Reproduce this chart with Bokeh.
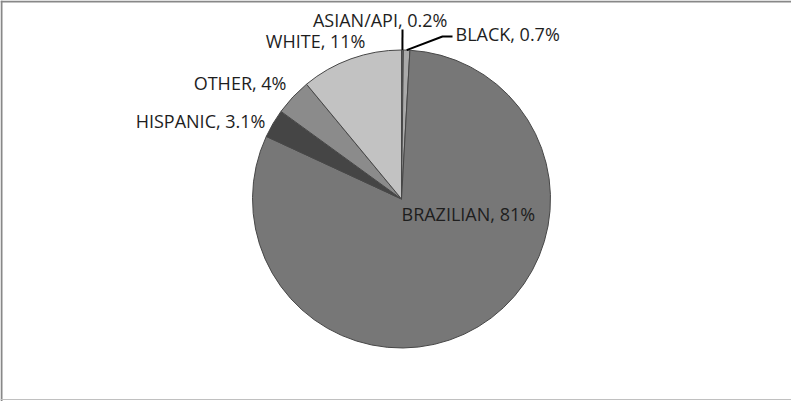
import math
from bokeh.plotting import figure
from bokeh.models import Range1d, Span, ColumnDataSource
from bokeh.core.properties import value
from bokeh.embed import file_html
from bokeh.resources import INLINE

# ---- data ----
categories = ["ASIAN/API", "BLACK", "BRAZILIAN", "HISPANIC", "OTHER", "WHITE"]
percent_labels = ["0.2%", "0.7%", "81%", "3.1%", "4%", "11%"]
shares = [0.2, 0.7, 81.0, 3.1, 4.0, 11.0]

# ---- style / layout ----
colors = ["#5e5e5e", "#aaaaaa", "#777777", "#454545", "#8b8b8b", "#c2c2c2"]
W, H = 791, 401
CX, CY, R = 409, 409 - 206.5, 149   # page coords -> data y = 409 - page_y

def py(v):
    return 409 - v

# label anchors (page coords) and alignment
label_layout = {
    "ASIAN/API": (455, 27, "right"),
    "BLACK": (463, 41, "left"),
    "BRAZILIAN": (409, 221, "left"),
    "HISPANIC": (273, 128, "right"),
    "OTHER": (294, 90, "right"),
    "WHITE": (373, 48, "right"),
}

total = sum(shares)
starts, ends, mids = [], [], []
acc = 0.0
for s in shares:
    a0 = math.pi / 2 - 2 * math.pi * acc / total
    acc += s
    a1 = math.pi / 2 - 2 * math.pi * acc / total
    starts.append(a0)
    ends.append(a1)
    mids.append((a0 + a1) / 2)

p = figure(width=W, height=H, output_backend="svg", toolbar_location=None,
           x_range=Range1d(8, 8 + W), y_range=Range1d(0, H),
           x_axis_type=None, y_axis_type=None, min_border=0,
           outline_line_color=None, background_fill_color="white")
p.grid.visible = False

src = ColumnDataSource(dict(start=starts, end=ends, color=colors, cat=categories))
p.wedge(x=CX, y=CY, radius=R, start_angle="start", end_angle="end",
        direction="clock", fill_color="color", line_color="#474747",
        line_width=1, source=src)

# leader lines for the two tiny slices
for cat, pts in (("ASIAN/API", [(410, 37)]), ("BLACK", [(450, 44), (460, 44)])):
    i = categories.index(cat)
    m = mids[i]
    xs = [CX + R * math.cos(m)] + [q[0] for q in pts]
    ys = [CY + R * math.sin(m)] + [py(q[1]) for q in pts]
    p.line(xs, ys, line_color="black", line_width=2)

# labels
for i, cat in enumerate(categories):
    lx, ly, al = label_layout[cat]
    p.text(x=[lx], y=[py(ly)], text=[f"{cat}, {percent_labels[i]}"],
           text_align=al, text_baseline="middle",
           text_font=value("Open Sans"), text_font_size="18px",
           text_color="#1e1e1e")

# chart frame
p.add_layout(Span(location=py(9), dimension="width", line_color="#888888", line_width=2))
p.add_layout(Span(location=9, dimension="height", line_color="#888888", line_width=2))
p.add_layout(Span(location=py(407), dimension="width", line_color="#c0c0c0", line_width=1))

open("out.html", "w").write(file_html(p, INLINE))
